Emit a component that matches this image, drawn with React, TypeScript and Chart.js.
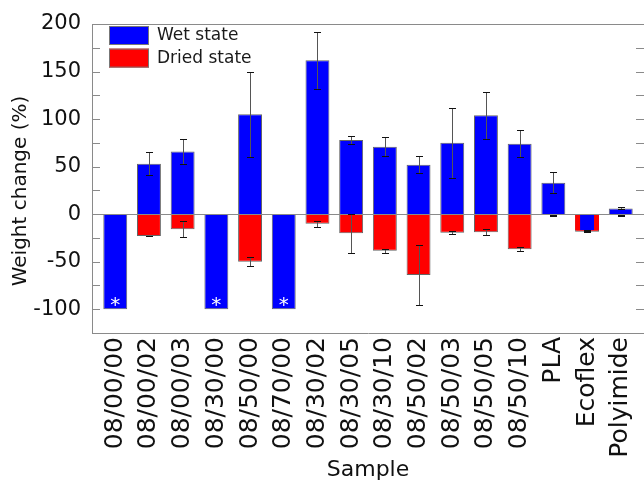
import React, { useEffect, useRef } from "react";
import { Chart, registerables } from "chart.js";

Chart.register(...registerables);

const categories = [
  "08/00/00", "08/00/02", "08/00/03", "08/30/00", "08/50/00", "08/70/00",
  "08/30/02", "08/30/05", "08/30/10", "08/50/02", "08/50/03", "08/50/05",
  "08/50/10", "PLA", "Ecoflex", "Polyimide",
];
const wetValues = [-100, 53, 66, -100, 105, -100, 162, 78, 71, 52, 75, 104, 74, 33, -17, 6];
const wetErrors = [null, 12, 13, null, 45, null, 30, 4, 10, 9, 37, 25, 14, 11, 0.5, 1];
const driedValues = [null, -23, -16, null, -50, null, -10, -20, -38.5, -64, -19.5, -19, -37, -1, -18.5, -1];
const driedErrors = [null, 0.5, 8.5, null, 4.5, null, 3, 20.5, 2, 31.5, 1.5, 3, 2, 0.5, 0.3, 0.5];
const asteriskMarks = [true, false, false, true, false, true, false, false, false, false, false, false, false, false, false, false];
const yMajorTicks = [-100, -50, 0, 50, 100, 150, 200];
const yMinorTicks = [-125, -100, -75, -50, -25, 0, 25, 50, 75, 100, 125, 150, 175, 200];
const legendLabels = ["Wet state", "Dried state"];
const seriesColors = ["#0000ff", "#ff0000"];
const yTitle = "Weight change (%)";
const xTitle = "Sample";
const FONT = '"DejaVu Sans", Verdana, sans-serif';

const decorPlugin = {
  id: "decor",
  afterDatasetsDraw(chart: any) {
    const { ctx, chartArea: a, scales } = chart;
    const y = scales.y;
    ctx.save();
    // zero line
    const y0 = Math.round(y.getPixelForValue(0)) + 0.5;
    ctx.strokeStyle = "#8a8a8a";
    ctx.lineWidth = 1;
    ctx.beginPath();
    ctx.moveTo(a.left, y0);
    ctx.lineTo(a.right, y0);
    ctx.stroke();
    // error bars
    const series: any[] = [
      [0, wetValues, wetErrors],
      [1, driedValues, driedErrors],
    ];
    for (const [di, vals, errs] of series) {
      const meta = chart.getDatasetMeta(di);
      vals.forEach((v: number | null, i: number) => {
        const e = errs[i];
        if (v == null || e == null) return;
        const el = meta.data[i];
        if (!el || !isFinite(el.x)) return;
        const x = Math.round(el.x) + 0.5;
        const t = Math.round(y.getPixelForValue(v + e)) + 0.5;
        const b = Math.round(y.getPixelForValue(v - e)) + 0.5;
        ctx.strokeStyle = "#555";
        ctx.beginPath();
        ctx.moveTo(x, t);
        ctx.lineTo(x, b);
        ctx.stroke();
        ctx.strokeStyle = "#111";
        ctx.beginPath();
        ctx.moveTo(x - 3.5, t);
        ctx.lineTo(x + 3.5, t);
        ctx.moveTo(x - 3.5, b);
        ctx.lineTo(x + 3.5, b);
        ctx.stroke();
      });
    }
    // asterisks
    const wetMeta = chart.getDatasetMeta(0);
    ctx.fillStyle = "#ffffff";
    ctx.font = `20px ${FONT}`;
    ctx.textAlign = "center";
    ctx.textBaseline = "alphabetic";
    const m = ctx.measureText("*");
    const half = (m.actualBoundingBoxAscent - m.actualBoundingBoxDescent) / 2;
    asteriskMarks.forEach((on, i) => {
      if (!on) return;
      const el = wetMeta.data[i];
      if (!el) return;
      ctx.fillText("*", el.x, el.y - 8 + half);
    });
    ctx.restore();
  },
  afterDraw(chart: any) {
    const { ctx, chartArea: a, scales } = chart;
    const y = scales.y;
    ctx.save();
    ctx.strokeStyle = "#8a8a8a";
    ctx.lineWidth = 1;
    // top frame line
    ctx.beginPath();
    ctx.moveTo(a.left, a.top + 0.5);
    ctx.lineTo(a.right, a.top + 0.5);
    ctx.stroke();
    // inward ticks (left & right)
    ctx.beginPath();
    yMinorTicks.forEach((v) => {
      const py = Math.round(y.getPixelForValue(v)) + 0.5;
      ctx.moveTo(a.left, py);
      ctx.lineTo(a.left + 8, py);
      ctx.moveTo(a.right - 8, py);
      ctx.lineTo(a.right, py);
    });
    ctx.stroke();
    // legend
    const bx = a.left + 17;
    const by = a.top + 2;
    legendLabels.forEach((label, i) => {
      const top = by + i * 22.6;
      ctx.fillStyle = seriesColors[i];
      ctx.fillRect(bx, top, 40, 19);
      ctx.strokeStyle = "#777";
      ctx.strokeRect(bx + 0.5, top + 0.5, 39, 18);
      ctx.fillStyle = "#1a1a1a";
      ctx.font = `17px ${FONT}`;
      ctx.textAlign = "left";
      ctx.textBaseline = "middle";
      ctx.fillText(label, bx + 48, top + 10);
    });
    // y axis title
    ctx.translate(20.5, a.top + 167);
    ctx.rotate(-Math.PI / 2);
    ctx.fillStyle = "#111";
    ctx.font = `20px ${FONT}`;
    ctx.textAlign = "center";
    ctx.textBaseline = "middle";
    ctx.fillText(yTitle, 0, 0);
    ctx.restore();
  },
};

export default function App() {
  const canvasRef = useRef<HTMLCanvasElement | null>(null);

  useEffect(() => {
    if (!canvasRef.current) return;
    Chart.defaults.font.family = FONT;
    const ecoIndex = categories.indexOf("Ecoflex");
    const chart = new Chart(canvasRef.current, {
      type: "bar",
      data: {
        datasets: [
          {
            label: legendLabels[0],
            data: wetValues.map((v, i) => ({ x: i, y: v })),
            backgroundColor: seriesColors[0],
            borderColor: wetValues.map((_, i) => (i === ecoIndex ? seriesColors[1] : "#666")),
            borderWidth: wetValues.map((_, i) =>
              i === ecoIndex ? { left: 5, right: 5, top: 0, bottom: 0 } : 1
            ) as any,
            grouped: false,
            categoryPercentage: 1,
            barPercentage: 0.71,
          },
          {
            label: legendLabels[1],
            data: driedValues.map((v, i) => ({ x: i, y: v })),
            backgroundColor: seriesColors[1],
            borderColor: "#666",
            borderWidth: 1,
            grouped: false,
            categoryPercentage: 1,
            barPercentage: 0.71,
          },
        ],
      },
      options: {
        responsive: false,
        animation: false,
        layout: { padding: { top: 24, left: 0, right: 0, bottom: 0 } },
        plugins: {
          legend: { display: false },
          tooltip: { enabled: false },
        },
        scales: {
          x: {
            type: "linear",
            offset: false,
            min: -0.69,
            max: 15.69,
            afterBuildTicks: (scale: any) => {
              scale.ticks = categories.map((_, i) => ({ value: i }));
            },
            afterFit: (scale: any) => {
              scale.height = 148;
              scale.paddingLeft = 0;
              scale.paddingRight = 0;
            },
            ticks: {
              autoSkip: false,
              minRotation: 90,
              maxRotation: 90,
              padding: 4,
              color: "#111",
              font: { size: 25, family: FONT },
              callback: (v: any) => categories[v as number] ?? "",
            },
            grid: { display: false, drawTicks: false, offset: false },
            border: { display: true, color: "#8a8a8a", width: 1 },
            title: {
              display: true,
              text: xTitle,
              color: "#111",
              font: { size: 22, family: FONT },
              padding: { top: 0, bottom: -2 },
            },
          },
          y: {
            min: -125,
            max: 200,
            afterBuildTicks: (scale: any) => {
              scale.ticks = yMajorTicks.map((v) => ({ value: v }));
            },
            afterFit: (scale: any) => {
              scale.width = 92;
              scale.paddingTop = 0;
              scale.paddingBottom = 0;
            },
            ticks: {
              padding: 11,
              color: "#111",
              font: { size: 21, family: FONT },
            },
            grid: { display: false, drawTicks: false },
            border: { display: true, color: "#8a8a8a", width: 1 },
          },
        },
      },
      plugins: [decorPlugin],
    } as any);
    return () => chart.destroy();
  }, []);

  return (
    <canvas
      ref={canvasRef}
      width={644}
      height={481}
      style={{ position: "absolute", left: 0, top: 0, display: "block" }}
    />
  );
}
